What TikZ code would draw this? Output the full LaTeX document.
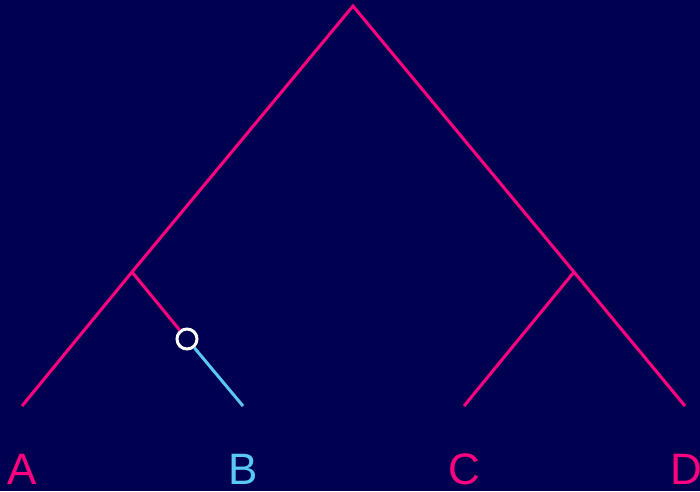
\documentclass[tikz,border=0pt]{standalone}
\usepackage{fontspec}
\setmainfont{Liberation Sans}
\definecolor{bgnavy}{RGB}{0,0,80}
\definecolor{treepink}{RGB}{255,0,128}
\definecolor{treeblue}{RGB}{90,200,245}
\begin{document}
\begin{tikzpicture}[x=1pt,y=-1pt,
  branch/.style={draw=treepink,line width=3pt},
  bluebranch/.style={draw=treeblue,line width=3pt},
  ringmark/.style={circle,draw=white,line width=3pt,fill=bgnavy,minimum size=20pt,inner sep=0pt},
  leaflabel/.style={anchor=base,inner sep=0pt,font=\fontsize{44}{50}\selectfont}]
\fill[bgnavy] (0,0) rectangle (700,491);
\useasboundingbox (0,0) rectangle (700,491);
\coordinate (root) at (353,6);
\coordinate (nl) at (132,272);
\coordinate (nr) at (574,272);
\coordinate (la) at (22,406);
\coordinate (lb) at (243,406);
\coordinate (lc) at (464,406);
\coordinate (ld) at (685,406);
\draw[branch] (la) -- (nl) -- (root) -- (nr) -- (ld);
\draw[branch] (nr) -- (lc);
\node[ringmark] (m) at (187,339) {};
\draw[branch] (nl) -- (m);
\draw[bluebranch] (m) -- (lb);
\node[leaflabel,text=treepink] (ta) at (22,484) {A};
\node[leaflabel,text=treeblue] (tb) at (243,484) {B};
\node[leaflabel,text=treepink] (tc) at (464,484) {C};
\node[leaflabel,text=treepink] (td) at (686,484) {D};
\end{tikzpicture}
\end{document}
